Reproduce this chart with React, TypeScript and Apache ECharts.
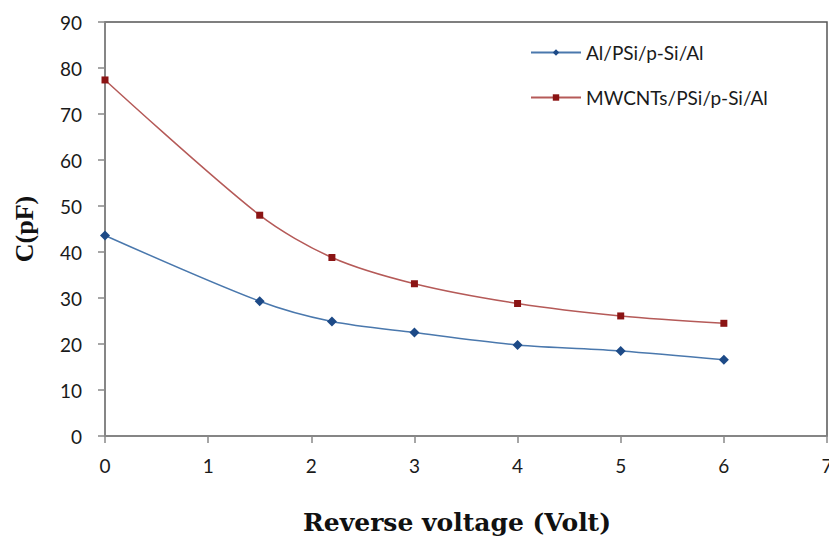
import React, { useEffect, useRef } from "react";
import * as echarts from "echarts";

const voltages = [0, 1.5, 2.2, 3, 4, 5, 6];
const alPSi = [43.6, 29.3, 24.9, 22.5, 19.8, 18.5, 16.6];
const mwcnt = [77.4, 48.0, 38.8, 33.1, 28.8, 26.1, 24.5];
const seriesNames = ["Al/PSi/p-Si/Al", "MWCNTs/PSi/p-Si/Al"];

export default function App() {
  const ref = useRef<HTMLDivElement>(null);
  useEffect(() => {
    if (!ref.current) return;
    const chart = echarts.init(ref.current, undefined, { renderer: "svg" });
    const tickFont = { fontFamily: "Lato", fontSize: 19, color: "#1a1a1a" };
    chart.setOption({
      animation: false,
      backgroundColor: "#ffffff",
      grid: {
        left: 105,
        top: 22,
        right: 2,
        bottom: 102,
        show: true,
        containLabel: false,
        outerBoundsMode: "none",
        borderColor: "#555555",
        borderWidth: 1.5,
      },
      legend: {
        orient: "vertical",
        left: 525,
        top: 38,
        itemWidth: 50,
        itemHeight: 8,
        itemGap: 26,
        textStyle: { fontFamily: "Lato", fontSize: 19, color: "#1a1a1a" },
        data: seriesNames,
      },
      xAxis: {
        type: "value",
        min: 0,
        max: 7,
        interval: 1,
        splitLine: { show: false },
        axisLine: { lineStyle: { color: "#888888", width: 1.5 } },
        axisTick: { length: 7, lineStyle: { color: "#888888", width: 1.5 } },
        axisLabel: { ...tickFont, margin: 20 },
        name: "Reverse voltage (Volt)",
        nameLocation: "middle",
        nameGap: 74,
        nameTextStyle: {
          fontFamily: "DejaVu Serif",
          fontWeight: "bold",
          fontSize: 25,
          color: "#111111",
          padding: [0, 18, 0, 0],
        },
      },
      yAxis: {
        type: "value",
        min: 0,
        max: 90,
        interval: 10,
        splitLine: { show: false },
        axisLine: { show: true, lineStyle: { color: "#888888", width: 1.5 } },
        axisTick: { show: true, length: 7, lineStyle: { color: "#888888", width: 1.5 } },
        axisLabel: { ...tickFont, margin: 23 },
        name: "C(pF)",
        nameLocation: "middle",
        nameGap: 68,
        nameTextStyle: {
          fontFamily: "Liberation Serif",
          fontWeight: "bold",
          fontSize: 26,
          color: "#111111",
        },
      },
      series: [
        {
          name: seriesNames[0],
          type: "line",
          smooth: 0.3,
          data: voltages.map((v, i) => [v, alPSi[i]]),
          symbol: "diamond",
          symbolSize: 10,
          lineStyle: { color: "#4a78ad", width: 1.5 },
          itemStyle: { color: "#1d4a87" },
        },
        {
          name: seriesNames[1],
          type: "line",
          smooth: 0.3,
          data: voltages.map((v, i) => [v, mwcnt[i]]),
          symbol: "rect",
          symbolSize: 7,
          lineStyle: { color: "#b55a58", width: 1.5 },
          itemStyle: { color: "#8b1414" },
        },
      ],
    });
    return () => chart.dispose();
  }, []);
  return <div ref={ref} style={{ width: 829, height: 538, position: "absolute", left: 0, top: 0 }} />;
}
